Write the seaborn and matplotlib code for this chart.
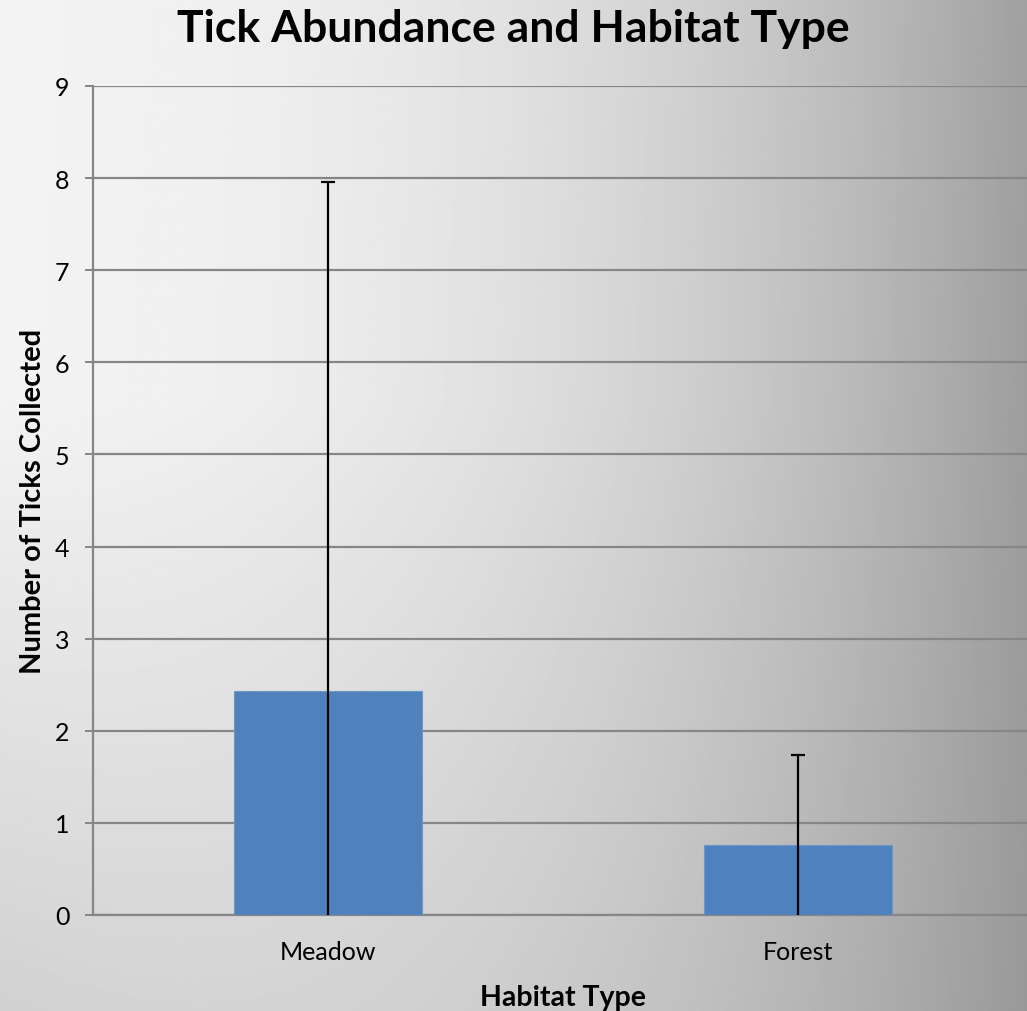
import numpy as np
import matplotlib
matplotlib.use("Agg")
import matplotlib.pyplot as plt
import seaborn as sns

# data
habitats = ["Meadow", "Forest"]
mean_ticks = [2.43, 0.76]
err_ticks = [5.53, 0.98]
y_ticks = list(range(0, 10))

sns.set_style("white")
plt.rcParams['font.family'] = ['Lato', 'DejaVu Sans']
plt.rcParams['text.color'] = 'black'
plt.rcParams['axes.labelcolor'] = 'black'
plt.rcParams['xtick.labelcolor'] = 'black'
plt.rcParams['ytick.labelcolor'] = 'black'

fig = plt.figure(figsize=(10.27, 10.12), dpi=100)

# gradient backdrop like the Excel chart area
bg = fig.add_axes([0, 0, 1, 1], zorder=-10)
xx, yy = np.meshgrid(np.linspace(0, 1, 400), np.linspace(0, 1, 400))
shade = 0.95 - 0.32 * xx ** 2.2 - 0.13 * np.clip((yy - 0.4) / 0.6, 0, 1) * (1 - xx) - 0.03 * yy * xx
bg.imshow(shade, cmap="gray", vmin=0, vmax=1, aspect="auto", extent=[0, 1, 1, 0])
bg.axis("off")

ax = fig.add_axes([93 / 1027, 96 / 1012, 940 / 1027, 829 / 1012])
ax.patch.set_alpha(0)

sns.barplot(x=habitats, y=mean_ticks, color="#4F81BD", width=0.4,
            errorbar=None, ax=ax, zorder=3, saturation=1,
            edgecolor="#6d96c8", linewidth=0.8)
ax.errorbar(range(len(habitats)), mean_ticks, yerr=err_ticks, fmt="none",
            ecolor="black", elinewidth=1.6, capsize=4.7, capthick=1.6, zorder=4)

ax.set_xlim(-0.5, 1.5)
ax.set_ylim(0, 9)
ax.set_yticks(y_ticks)
ax.set_yticklabels([str(t) for t in y_ticks])
ax.yaxis.grid(True, color="#868686", linewidth=1.6, zorder=0)
ax.set_axisbelow(True)

for s in ["top", "right"]:
    ax.spines[s].set_visible(False)
for s in ["left", "bottom"]:
    ax.spines[s].set_color("#868686")
    ax.spines[s].set_linewidth(1.6)

# category boundary ticks
ax.set_xticks([-0.5, 0.5, 1.5], minor=True)
ax.tick_params(axis="x", which="minor", length=6, width=1.4, color="#868686", direction="out")
ax.tick_params(axis="x", which="major", length=0, pad=18, labelsize=18)
ax.tick_params(axis="y", length=6, width=1.4, color="#868686", direction="out",
               pad=11, labelsize=18)
ax.yaxis.set_ticks_position("left")

ax.set_xlabel("Habitat Type", fontsize=20.5, fontweight="bold", labelpad=15)
ax.set_ylabel("Number of Ticks Collected", fontsize=21, fontweight="bold", labelpad=6)
fig.suptitle("Tick Abundance and Habitat Type", fontsize=32, fontweight="bold", y=0.991, va="top")

fig.savefig("out.png", dpi=100)
